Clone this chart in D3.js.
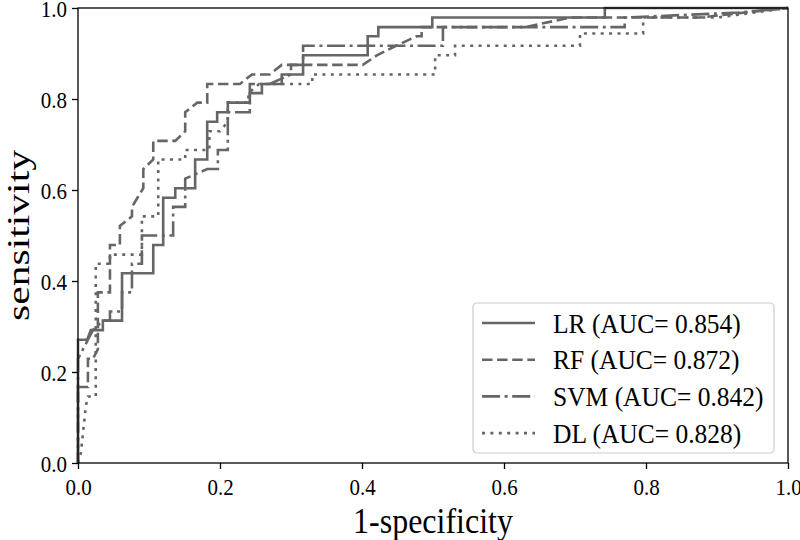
<!DOCTYPE html>
<html lang="en">
<head>
    <meta charset="UTF-8">
    <title>ROC curves</title>
    <!-- Load d3.js -->
    <script src="https://d3js.org/d3.v7.min.js"></script>
    <style>
        body { margin: 0; background: #fff; }
        text { font-family: "Liberation Serif", "Times New Roman", serif; }
    </style>
</head>
<body>

<!-- Create a div where the graph will take place -->
<div id="my_dataviz"></div>
<script>

    // legend names and AUC values
    var modelNames = ["LR", "RF", "SVM", "DL"];
    var aucValues = ["0.854", "0.872", "0.842", "0.828"];

    // tick labels
    var xTicks = [0.0, 0.2, 0.4, 0.6, 0.8, 1.0];
    var yTicks = [0.0, 0.2, 0.4, 0.6, 0.8, 1.0];

    // LR curve
    var lrFpr = [0, 0, 0.013, 0.018, 0.035, 0.035, 0.062, 0.062, 0.106, 0.106, 0.120, 0.120, 0.137, 0.137,
        0.165, 0.165, 0.182, 0.182, 0.196, 0.196, 0.211, 0.211, 0.242, 0.242, 0.259, 0.259, 0.287, 0.287,
        0.317, 0.317, 0.408, 0.408, 0.423, 0.423, 0.499, 0.499, 0.742, 0.742, 1];
    var lrTpr = [0, 0.271, 0.271, 0.292, 0.292, 0.313, 0.313, 0.417, 0.417, 0.479, 0.479, 0.583, 0.583, 0.604,
        0.604, 0.667, 0.667, 0.75, 0.75, 0.771, 0.771, 0.792, 0.792, 0.813, 0.813, 0.833, 0.833, 0.854,
        0.854, 0.896, 0.896, 0.938, 0.938, 0.958, 0.958, 0.979, 0.979, 1, 1];

    // RF curve
    var rfFpr = [0, 0, 0.014, 0.014, 0.021, 0.028, 0.028, 0.045, 0.045, 0.059, 0.059, 0.076, 0.076, 0.092,
        0.092, 0.106, 0.106, 0.137, 0.151, 0.151, 0.168, 0.182, 0.182, 0.228, 0.245, 0.270, 0.287, 0.401,
        0.421, 0.448, 0.477, 0.484, 0.484, 0.630, 0.693, 0.876, 0.939, 1];
    var rfTpr = [0, 0.167, 0.167, 0.229, 0.229, 0.25, 0.375, 0.375, 0.479, 0.479, 0.521, 0.542, 0.563, 0.604,
        0.646, 0.667, 0.708, 0.708, 0.729, 0.771, 0.792, 0.792, 0.833, 0.833, 0.854, 0.854, 0.875, 0.875,
        0.896, 0.917, 0.938, 0.938, 0.958, 0.958, 0.979, 0.979, 0.99, 1];

    // SVM curve
    var svmFpr = [0, 0, 0.014, 0.021, 0.035, 0.045, 0.045, 0.062, 0.062, 0.076, 0.076, 0.090, 0.090, 0.134,
        0.134, 0.151, 0.151, 0.182, 0.197, 0.197, 0.211, 0.211, 0.242, 0.242, 0.270, 0.300, 0.300, 0.317,
        0.317, 0.514, 0.514, 0.770, 0.770, 0.930, 1];
    var svmTpr = [0, 0.229, 0.271, 0.292, 0.313, 0.313, 0.333, 0.333, 0.375, 0.375, 0.438, 0.438, 0.5, 0.5,
        0.563, 0.563, 0.625, 0.646, 0.646, 0.688, 0.688, 0.771, 0.771, 0.833, 0.833, 0.854, 0.875, 0.875,
        0.917, 0.917, 0.958, 0.958, 0.979, 0.99, 1];

    // DL curve
    var dlFpr = [0, 0.004, 0.011, 0.014, 0.025, 0.025, 0.045, 0.045, 0.090, 0.090, 0.113, 0.113, 0.151, 0.151,
        0.185, 0.185, 0.200, 0.211, 0.211, 0.240, 0.240, 0.255, 0.330, 0.330, 0.503, 0.503, 0.531, 0.531,
        0.707, 0.707, 0.796, 0.796, 0.900, 1];
    var dlTpr = [0, 0.021, 0.125, 0.146, 0.146, 0.438, 0.438, 0.458, 0.458, 0.542, 0.542, 0.667, 0.667, 0.688,
        0.688, 0.729, 0.729, 0.75, 0.792, 0.792, 0.813, 0.833, 0.833, 0.854, 0.854, 0.896, 0.896, 0.917,
        0.917, 0.944, 0.944, 0.979, 0.979, 1];

    var curves = [
        {fpr: lrFpr, tpr: lrTpr, dash: null},
        {fpr: rfFpr, tpr: rfTpr, dash: "10.5,4.6"},
        {fpr: svmFpr, tpr: svmTpr, dash: "18,4.6,3,4.6"},
        {fpr: dlFpr, tpr: dlTpr, dash: "3,5.4"}
    ];

    var lineColor = "#666666";
    // the reference text looks a bit stretched in height
    var stretch = 1.12;

    // set the dimensions and margins of the graph
    var margin = {top: 8, right: 12, bottom: 77, left: 78},
        width = 800 - margin.left - margin.right,
        height = 540 - margin.top - margin.bottom;

    // append the svg object to the body of the page
    var svg = d3.select("#my_dataviz")
        .append("svg")
        .attr("width", width + margin.left + margin.right)
        .attr("height", height + margin.top + margin.bottom)
        .append("g")
        .attr("transform", "translate(" + margin.left + "," + margin.top + ")");

    var x = d3.scaleLinear().domain([0, 1]).range([0, width]);
    var y = d3.scaleLinear().domain([0, 1]).range([height, 0]);

    // the curves
    var line = d3.line()
        .x(function(d) { return x(d[0]); })
        .y(function(d) { return y(d[1]); });

    curves.forEach(function(c) {
        var pts = c.fpr.map(function(f, i) { return [f, c.tpr[i]]; });
        svg.append("path")
            .datum(pts)
            .attr("fill", "none")
            .attr("stroke", lineColor)
            .attr("stroke-width", 2.6)
            .attr("stroke-dasharray", c.dash)
            .attr("d", line);
    });

    // X axis
    var xAxis = svg.append("g")
        .attr("transform", "translate(0," + height + ")")
        .call(d3.axisBottom(x).tickValues(xTicks).tickFormat(d3.format(".1f"))
            .tickSizeInner(6).tickSizeOuter(0));
    // Y axis
    var yAxis = svg.append("g")
        .call(d3.axisLeft(y).tickValues(yTicks).tickFormat(d3.format(".1f"))
            .tickSizeInner(6).tickSizeOuter(0).tickPadding(5));

    [xAxis, yAxis].forEach(function(a) {
        a.select(".domain").remove();
        a.selectAll(".tick line").attr("stroke", "#000").attr("stroke-width", 1.3);
        a.selectAll(".tick text").attr("fill", "#000").style("font-size", "21px")
            .style("font-family", "'Liberation Serif', 'Times New Roman', serif");
    });
    xAxis.selectAll(".tick text")
        .attr("y", 0).attr("dy", 0)
        .attr("transform", "translate(0,32) scale(1," + stretch + ")");
    yAxis.selectAll(".tick text")
        .attr("dy", "0.34em")
        .attr("transform", "scale(1," + stretch + ")");

    // frame
    svg.append("rect")
        .attr("width", width)
        .attr("height", height)
        .attr("fill", "none")
        .attr("stroke", "#000")
        .attr("stroke-width", 1.3);

    // axis labels
    svg.append("text")
        .attr("transform", "translate(" + (width / 2) + "," + (height + 70) + ") scale(1," + stretch + ")")
        .attr("text-anchor", "middle")
        .style("font-size", "32px")
        .text("1-specificity");

    svg.append("text")
        .attr("transform", "translate(" + (-49) + "," + (height / 2) + ") scale(1,1.3) rotate(-90)")
        .attr("text-anchor", "middle")
        .style("font-size", "32px")
        .text("sensitivity");

    // legend
    var lg = svg.append("g").attr("transform", "translate(" + (473 - margin.left) + "," + (303 - margin.top) + ")");
    lg.append("rect")
        .attr("width", 301)
        .attr("height", 150)
        .attr("rx", 4)
        .attr("fill", "#fff")
        .attr("fill-opacity", 0.8)
        .attr("stroke", "#cccccc")
        .attr("stroke-width", 1.2);

    modelNames.forEach(function(name, i) {
        var ry = 20 + i * 36.7;
        lg.append("line")
            .attr("x1", 9).attr("x2", 62)
            .attr("y1", ry).attr("y2", ry)
            .attr("stroke", lineColor)
            .attr("stroke-width", 2.6)
            .attr("stroke-dasharray", curves[i].dash);
        lg.append("text")
            .attr("transform", "translate(80," + ry + ") scale(1,1.1)")
            .attr("dy", "0.34em")
            .style("font-size", "25.5px")
            .text(name + " (AUC= " + aucValues[i] + ")");
    });

</script>

</body>
</html>
